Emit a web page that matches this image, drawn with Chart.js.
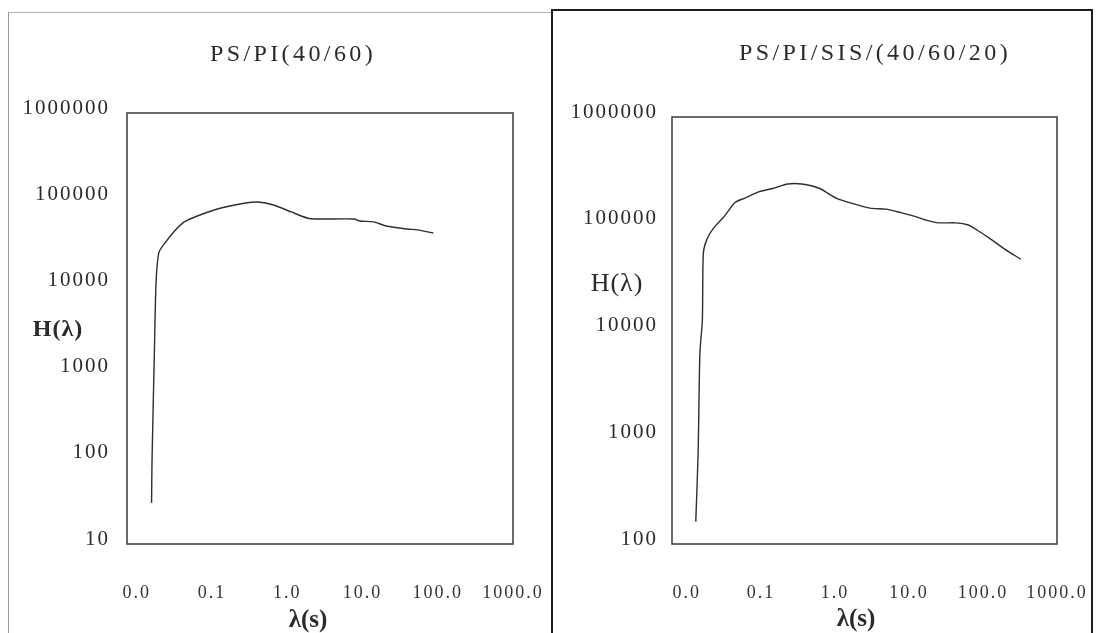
<!DOCTYPE html>
<html>
<head>
<meta charset="utf-8">
<script src="https://cdn.jsdelivr.net/npm/chart.js@4.4.1/dist/chart.umd.min.js"></script>
<style>
  body { margin: 0; background: #fff; width: 1099px; height: 633px; overflow: hidden; position: relative;
         font-family: "Liberation Serif", "Times New Roman", serif; color: #2a2a2a; }
  .panelL { position: absolute; left: 8px; top: 12px; width: 543px; height: 700px;
            border-left: 1px solid #9a9a9a; border-top: 1px solid #b4b4b4; }
  .panelR { position: absolute; left: 551px; top: 9px; width: 538px; height: 700px; border: 2px solid #1e1e1e; }
  canvas { position: absolute; top: 0; }
  .lbl { position: absolute; transform: translate(-50%, -50%); white-space: nowrap; }
  .ttl { font-size: 24px; letter-spacing: 3.4px; }
</style>
</head>
<body>
<div class="panelL"></div>
<div class="panelR"></div>
<canvas id="chartPI" width="550" height="633" style="left:0"></canvas>
<canvas id="chartSIS" width="547" height="633" style="left:552px"></canvas>

<div class="lbl ttl" style="left:293px; top:53px">PS/PI(40/60)</div>
<div class="lbl ttl" style="left:875px; top:52px">PS/PI/SIS/(40/60/20)</div>
<div class="lbl" style="left:58px; top:328px; font-size:24px; font-weight:bold; letter-spacing:1px">H(λ)</div>
<div class="lbl" style="left:617px; top:283px; font-size:26px; letter-spacing:1px">H(λ)</div>
<div class="lbl" style="left:308px; top:619px; font-size:25px; font-weight:bold">λ(s)</div>
<div class="lbl" style="left:856px; top:618px; font-size:25px; font-weight:bold">λ(s)</div>

<script>
// axis ticks
const xTickValues = [0.01, 0.1, 1, 10, 100, 1000];
const xTickLabels = ["0.0", "0.1", "1.0", "10.0", "100.0", "1000.0"];
const yTicksPI = [10, 100, 1000, 10000, 100000, 1000000];
const yTicksSIS = [100, 1000, 10000, 100000, 1000000];

// PS/PI (40/60)
const lambdaPI = [0.0157, 0.0159, 0.0171, 0.0180, 0.0196, 0.0236, 0.0309, 0.0426, 0.069, 0.132, 0.279, 0.407,
  0.659, 1.13, 1.83, 2.39, 7.8, 9.14, 14.1, 20.5, 39, 53.8, 87.3];
const hPI = [30, 87, 1650, 10700, 24000, 31000, 41700, 54500, 65600, 79000, 90300, 92800,
  85700, 71100, 60500, 58900, 58900, 55900, 54500, 48900, 45100, 44100, 40500];

// PS/PI/SIS (40/60/20)
const lambdaSIS = [0.0132, 0.0142, 0.015, 0.0162, 0.0167, 0.0187, 0.0232, 0.0322, 0.0447, 0.062, 0.0958, 0.1485,
  0.23, 0.355, 0.613, 1.057, 1.83, 2.98, 4.87, 7.55, 11.7, 18.0, 25.1, 43.2, 63.4, 83.0, 128.8, 199, 325];
const hSIS = [162, 708, 6110, 12500, 52900, 72000, 92000, 118000, 158000, 175000, 200000, 215000,
  236000, 236000, 215000, 173000, 153000, 140000, 137000, 128000, 118000, 107000, 102000, 102000, 97300, 87400, 71500, 57600, 46500];

const frame = {
  id: "frame",
  beforeDraw(chart) {
    chart.ctx.letterSpacing = "2px";
  },
  afterDraw(chart) {
    const { ctx, chartArea: a } = chart;
    ctx.save();
    ctx.strokeStyle = "#3a3a3a";
    ctx.lineWidth = 1.5;
    ctx.strokeRect(a.left, a.top, a.right - a.left, a.bottom - a.top);
    ctx.restore();
  },
};

function makeChart(id, xs, ys, xMin, yTicks, pad, yWidth, yPadding) {
  return new Chart(document.getElementById(id), {
    type: "line",
    data: {
      datasets: [{
        data: xs.map((x, i) => ({ x, y: ys[i] })),
        borderColor: "#2e2e2e",
        borderWidth: 1.4,
        pointRadius: 0,
        tension: 0.25,
        fill: false,
      }],
    },
    options: {
      responsive: false,
      animation: false,
      layout: { padding: pad },
      plugins: { legend: { display: false }, tooltip: { enabled: false } },
      scales: {
        x: {
          type: "logarithmic",
          min: xMin,
          max: 1000,
          grid: { display: false, drawTicks: false },
          border: { display: false },
          afterBuildTicks: (s) => { s.ticks = xTickValues.map((v) => ({ value: v })); },
          afterFit: (s) => { s.height = 89; s.paddingLeft = 0; s.paddingRight = 0; },
          ticks: {
            autoSkip: false,
            maxRotation: 0,
            padding: 38,
            color: "#333",
            font: { family: "Liberation Serif", size: 18 },
            callback: (v, i) => xTickLabels[i],
          },
        },
        y: {
          type: "logarithmic",
          min: yTicks[0],
          max: yTicks[yTicks.length - 1],
          grid: { display: false, drawTicks: false },
          border: { display: false },
          afterBuildTicks: (s) => { s.ticks = yTicks.map((v) => ({ value: v })); },
          afterFit: (s) => { s.width = yWidth; s.paddingTop = 0; s.paddingBottom = 0; },
          ticks: {
            padding: yPadding,
            labelOffset: -5,
            color: "#2a2a2a",
            font: { family: "Liberation Serif", size: 21 },
            callback: (v) => String(v),
          },
        },
      },
    },
    plugins: [frame],
  });
}

makeChart("chartPI", lambdaPI, hPI, 0.0074, yTicksPI, { left: 0, top: 113, right: 37, bottom: 0 }, 127, 17);
makeChart("chartSIS", lambdaSIS, hSIS, 0.0063, yTicksSIS, { left: 0, top: 117, right: 42, bottom: 0 }, 120, 14);
</script>
</body>
</html>
